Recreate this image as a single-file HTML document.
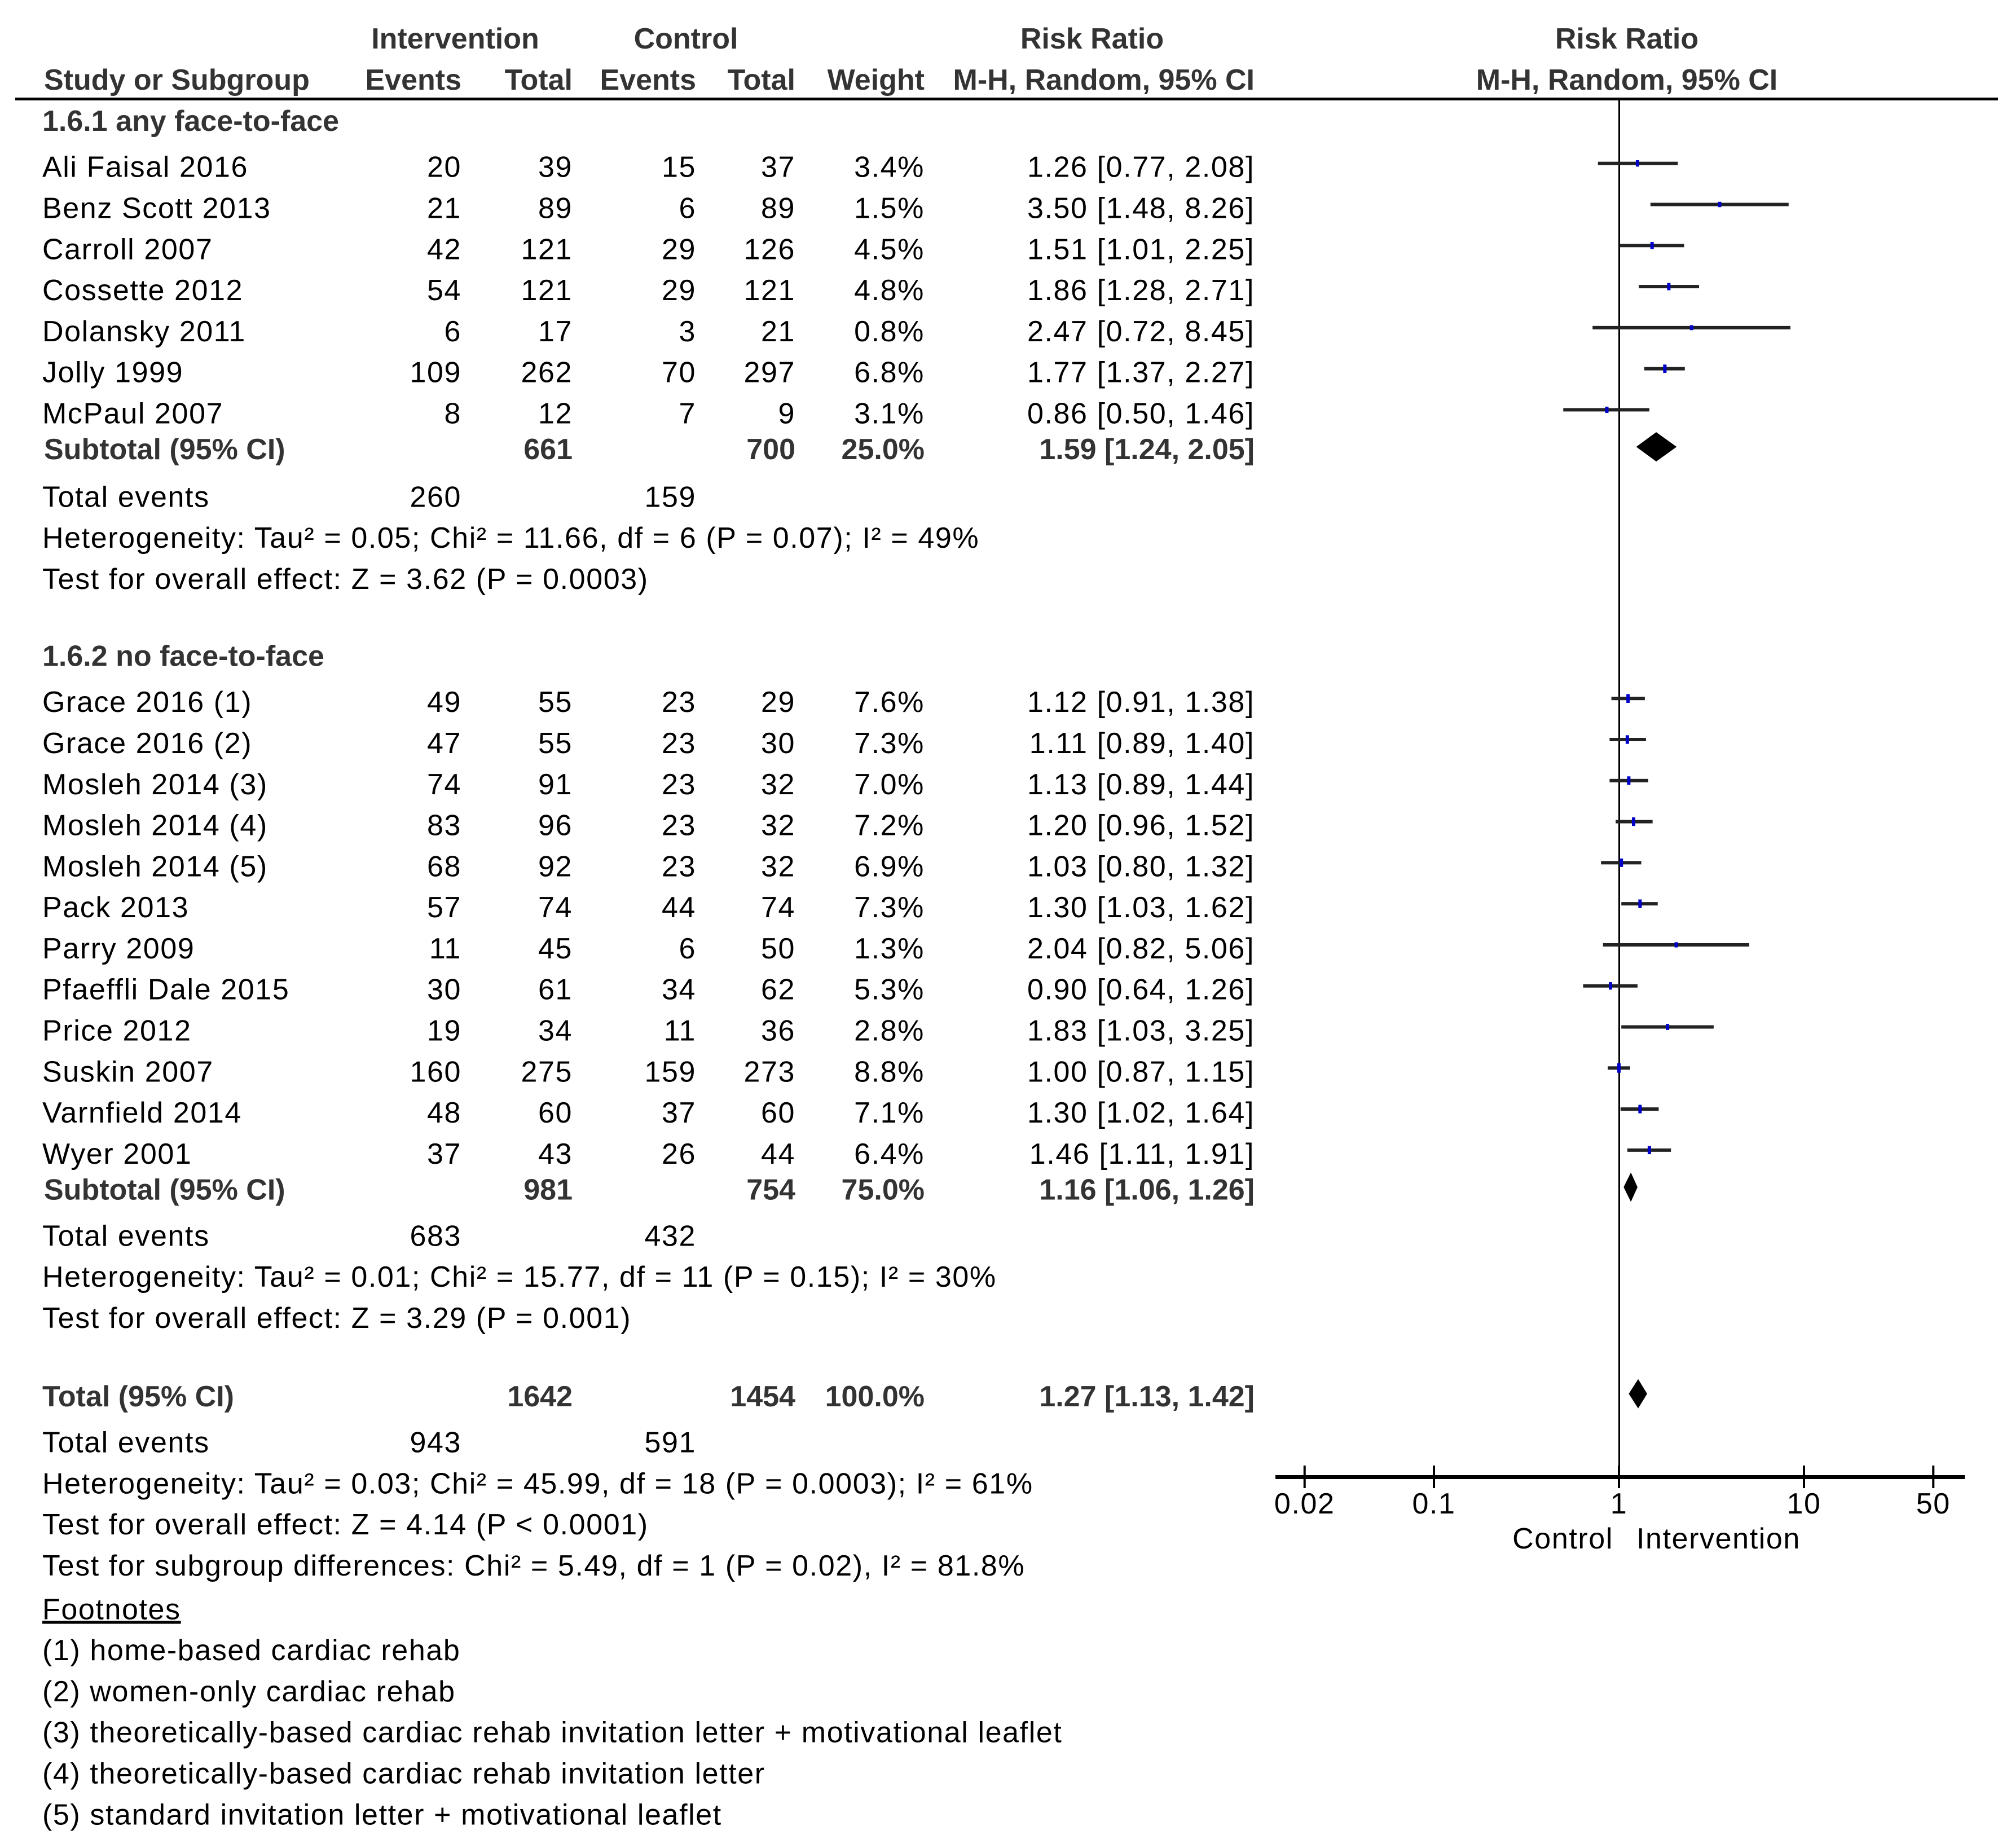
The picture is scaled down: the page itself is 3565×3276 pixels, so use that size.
<!DOCTYPE html>
<html><head><meta charset="utf-8"><style>
html,body{margin:0;padding:0;background:#fff;}
svg{display:block;font-family:"Liberation Sans",Arial,sans-serif;}
text{font-size:52px;fill:#000;letter-spacing:1.6px;}
.b{font-weight:bold;fill:#333;letter-spacing:0;}
</style></head><body>
<svg id="c" width="3565" height="3276" viewBox="0 0 3565 3276" xmlns="http://www.w3.org/2000/svg"></svg>
<script>
const studies1=["Ali Faisal 2016","Benz Scott 2013","Carroll 2007","Cossette 2012","Dolansky 2011","Jolly 1999","McPaul 2007"];
const ie1=[20,21,42,54,6,109,8], it1=[39,89,121,121,17,262,12], ce1=[15,6,29,29,3,70,7], ct1=[37,89,126,121,21,297,9];
const w1=["3.4%","1.5%","4.5%","4.8%","0.8%","6.8%","3.1%"];
const rr1=[1.26,3.50,1.51,1.86,2.47,1.77,0.86], lo1=[0.77,1.48,1.01,1.28,0.72,1.37,0.50], hi1=[2.08,8.26,2.25,2.71,8.45,2.27,1.46];
const studies2=["Grace 2016 (1)","Grace 2016 (2)","Mosleh 2014 (3)","Mosleh 2014 (4)","Mosleh 2014 (5)","Pack 2013","Parry 2009","Pfaeffli Dale 2015","Price 2012","Suskin 2007","Varnfield 2014","Wyer 2001"];
const ie2=[49,47,74,83,68,57,11,30,19,160,48,37], it2=[55,55,91,96,92,74,45,61,34,275,60,43], ce2=[23,23,23,23,23,44,6,34,11,159,37,26], ct2=[29,30,32,32,32,74,50,62,36,273,60,44];
const w2=["7.6%","7.3%","7.0%","7.2%","6.9%","7.3%","1.3%","5.3%","2.8%","8.8%","7.1%","6.4%"];
const rr2=[1.12,1.11,1.13,1.20,1.03,1.30,2.04,0.90,1.83,1.00,1.30,1.46], lo2=[0.91,0.89,0.89,0.96,0.80,1.03,0.82,0.64,1.03,0.87,1.02,1.11], hi2=[1.38,1.40,1.44,1.52,1.32,1.62,5.06,1.26,3.25,1.15,1.64,1.91];
const subRR=[1.59,1.16,1.27], subLo=[1.24,1.06,1.13], subHi=[2.05,1.26,1.42];
const ticks=[0.02,0.1,1,10,50];
const S=2.2746;
const svg=document.getElementById('c');
const NS="http://www.w3.org/2000/svg";
function X(v){return 2870+328*Math.log10(v);}
function el(tag,attrs,name){const e=document.createElementNS(NS,tag);for(const k in attrs)e.setAttribute(k,attrs[k]);


svg.appendChild(e);return e;}
function t(s,x,yd,anchor,cls,name){const e=el('text',{x:x,y:yd*S+18,'text-anchor':anchor||'start'},name);if(cls)e.setAttribute('class',cls);e.textContent=s;return e;}
const cx={ie:818,it:1015,ce:1234,ct:1410,w:1639,ci:2224};
t("Intervention",807,30,'middle','b','header-intervention');
t("Control",1216,30,'middle','b','header-control');
t("Risk Ratio",1936,30,'middle','b','header-risk-ratio');
t("Risk Ratio",2884,30,'middle','b','header-plot-risk-ratio');
t("Study or Subgroup",78,62,'start','b','header-study');
t("Events",cx.ie,62,'end','b','header-int-events');
t("Total",cx.it,62,'end','b','header-int-total');
t("Events",cx.ce,62,'end','b','header-ctl-events');
t("Total",cx.ct,62,'end','b','header-ctl-total');
t("Weight",cx.w,62,'end','b','header-weight');
t("M-H, Random, 95% CI",cx.ci,62,'end','b','header-ci');
t("M-H, Random, 95% CI",2884,62,'middle','b','header-plot-ci');
el('rect',{x:27,y:173,width:3515,height:5,fill:'#000'},'header-rule');
el('rect',{x:2869,y:176,width:3,height:2442,fill:'#000'},'null-line');
function f2(v){return v.toFixed(2);}
function rows(names,ie,it,ce,ct,w,rr,lo,hi,y0,g){
  for(let i=0;i<names.length;i++){
    const yd=y0+32*i;
    t(names[i],75,yd,'start','','study-'+g+'-'+i);
    t(String(ie[i]),cx.ie,yd,'end','','int-events');
    t(String(it[i]),cx.it,yd,'end','','int-total');
    t(String(ce[i]),cx.ce,yd,'end','','ctl-events');
    t(String(ct[i]),cx.ct,yd,'end','','ctl-total');
    t(w[i],cx.w,yd,'end','','weight');
    t(f2(rr[i])+" ["+f2(lo[i])+", "+f2(hi[i])+"]",cx.ci,yd,'end','','risk-ratio-ci');
    const y=yd*S-6;
    el('rect',{x:X(lo[i]),y:y-3,width:X(hi[i])-X(lo[i]),height:6,fill:'#222'},'ci-bar');
    const s=8+parseFloat(w[i]);
    el('rect',{x:X(rr[i])-3,y:y-s/2,width:6,height:s,fill:'#0000c8'},'point-estimate');
  }
}
function diamond(k,yd){const y=yd*S-4;
  el('polygon',{points:`${X(subLo[k])},${y} ${X(subRR[k])},${y-26} ${X(subHi[k])},${y} ${X(subRR[k])},${y+26}`,fill:'#000'},'summary-diamond');}
t("1.6.1 any face-to-face",75,94,'start','b','subgroup-1-title');
rows(studies1,ie1,it1,ce1,ct1,w1,rr1,lo1,hi1,130,1);
t("Subtotal (95% CI)",78,350,'start','b','subtotal-1');
t("661",cx.it,350,'end','b','subtotal-1-int-total');t("700",cx.ct,350,'end','b','subtotal-1-ctl-total');t("25.0%",cx.w,350,'end','b','subtotal-1-weight');
t("1.59 [1.24, 2.05]",cx.ci,350,'end','b','subtotal-1-ci');diamond(0,350);
t("Total events",75,387,'start','','total-events-1');t("260",cx.ie,387,'end','','total-events-1-int');t("159",cx.ce,387,'end','','total-events-1-ctl');
t("Heterogeneity: Tau² = 0.05; Chi² = 11.66, df = 6 (P = 0.07); I² = 49%",75,419,'start','','heterogeneity-1');
t("Test for overall effect: Z = 3.62 (P = 0.0003)",75,451,'start','','overall-effect-1');
t("1.6.2 no face-to-face",75,511,'start','b','subgroup-2-title');
rows(studies2,ie2,it2,ce2,ct2,w2,rr2,lo2,hi2,547,2);
t("Subtotal (95% CI)",78,927,'start','b','subtotal-2');
t("981",cx.it,927,'end','b','subtotal-2-int-total');t("754",cx.ct,927,'end','b','subtotal-2-ctl-total');t("75.0%",cx.w,927,'end','b','subtotal-2-weight');
t("1.16 [1.06, 1.26]",cx.ci,927,'end','b','subtotal-2-ci');diamond(1,927);
t("Total events",75,963,'start','','total-events-2');t("683",cx.ie,963,'end','','total-events-2-int');t("432",cx.ce,963,'end','','total-events-2-ctl');
t("Heterogeneity: Tau² = 0.01; Chi² = 15.77, df = 11 (P = 0.15); I² = 30%",75,995,'start','','heterogeneity-2');
t("Test for overall effect: Z = 3.29 (P = 0.001)",75,1027,'start','','overall-effect-2');
t("Total (95% CI)",75,1088,'start','b','total-label');
t("1642",cx.it,1088,'end','b','total-int-total');t("1454",cx.ct,1088,'end','b','total-ctl-total');t("100.0%",cx.w,1088,'end','b','total-weight');
t("1.27 [1.13, 1.42]",cx.ci,1088,'end','b','total-ci');diamond(2,1088);
t("Total events",75,1124,'start','','total-events');t("943",cx.ie,1124,'end','','total-events-int');t("591",cx.ce,1124,'end','','total-events-ctl');
t("Heterogeneity: Tau² = 0.03; Chi² = 45.99, df = 18 (P = 0.0003); I² = 61%",75,1156,'start','','heterogeneity-total');
t("Test for overall effect: Z = 4.14 (P < 0.0001)",75,1188,'start','','overall-effect-total');
t("Test for subgroup differences: Chi² = 5.49, df = 1 (P = 0.02), I² = 81.8%",75,1220,'start','','subgroup-differences');
const fn=t("Footnotes",75,1254,'start','','footnotes-title');fn.setAttribute('text-decoration','underline');
const notes=["(1) home-based cardiac rehab","(2) women-only cardiac rehab","(3) theoretically-based cardiac rehab invitation letter + motivational leaflet","(4) theoretically-based cardiac rehab invitation letter","(5) standard invitation letter + motivational leaflet"];
notes.forEach((n,i)=>t(n,75,1286+32*i,'start','','footnote'));
el('rect',{x:2261,y:2615,width:1222,height:7,fill:'#000'},'x-axis');
ticks.forEach(v=>{el('rect',{x:X(v)-2,y:2598,width:4,height:40,fill:'#000'},'x-tick');
 const e=el('text',{x:X(v),y:2683,'text-anchor':'middle'},'x-tick-label');e.textContent=String(v);});
const a=el('text',{x:2860,y:2745,'text-anchor':'end'},'favours-control');a.textContent="Control";
const b=el('text',{x:2901,y:2745,'text-anchor':'start'},'favours-intervention');b.textContent="Intervention";
</script>
</body></html>
